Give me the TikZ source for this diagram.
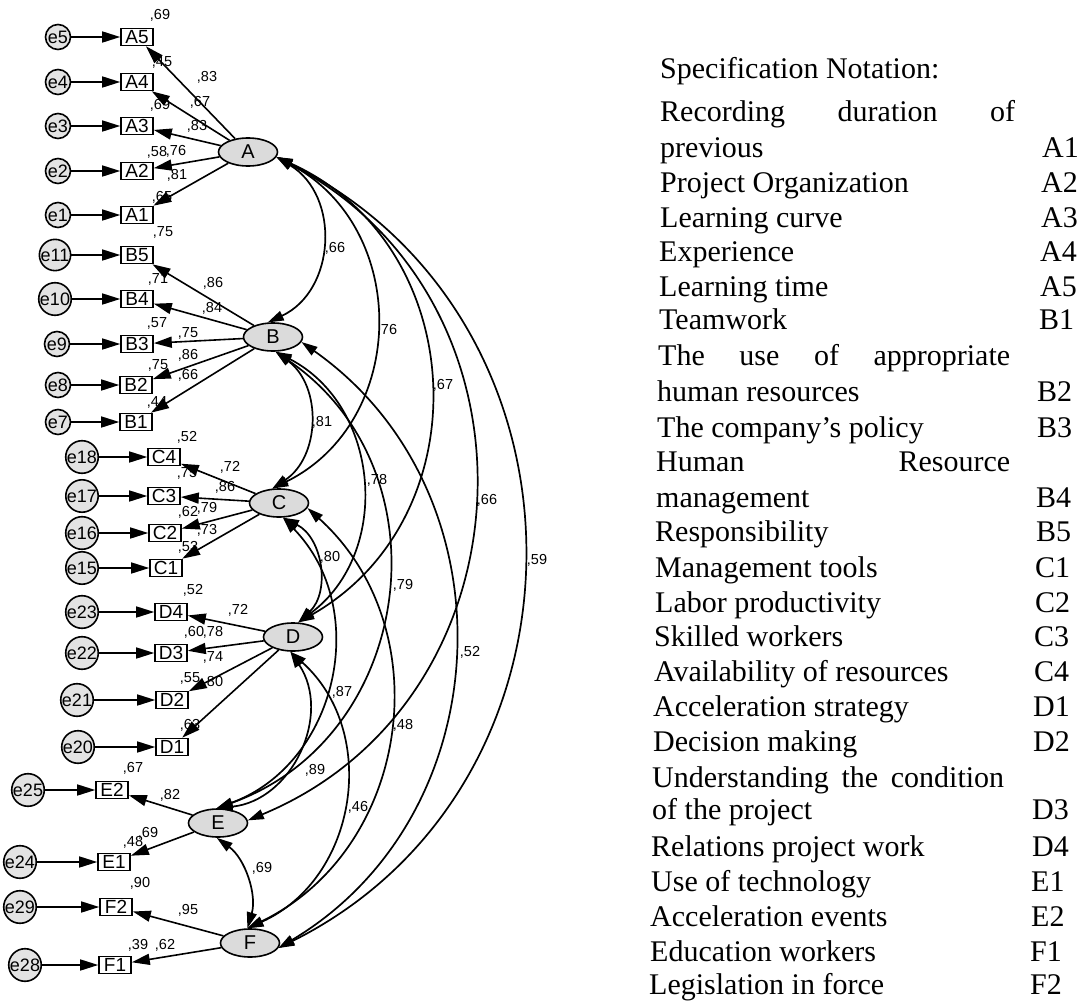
\documentclass[tikz,border=0pt]{standalone}
\usepackage{fontspec}
\setmainfont{Liberation Serif}
\newfontfamily\lsans{Liberation Sans}
\usetikzlibrary{shapes.geometric, arrows.meta}
\newcommand\myval{\lsans\fontsize{14.5}{16}\selectfont}
\newcommand\myobs{\lsans\fontsize{19}{21}\selectfont}
\newcommand\mylat{\lsans\fontsize{20}{22}\selectfont}
\newcommand\myerr{\lsans\fontsize{18}{20}\selectfont}
\newcommand\mytxt{\rmfamily\fontsize{30}{34}\selectfont}
\begin{document}
\begin{tikzpicture}[x=1pt,y=-1pt,
  obs/.style={draw, rectangle, minimum width=32pt, minimum height=17pt, inner sep=0pt, font=\myobs, line width=1.6pt},
  lat/.style={draw, ellipse, fill=gray!28, minimum width=59pt, minimum height=28pt, inner sep=0pt, font=\mylat, line width=1.6pt},
  err/.style={draw, circle, fill=gray!22, minimum size=25pt, inner sep=0pt, font=\myerr, line width=1.6pt},
  val/.style={font=\myval, inner sep=0pt},
  txt/.style={font=\mytxt, inner sep=0pt, anchor=base west},
  reg/.style={-{Triangle[length=18pt,width=11pt]}, line width=1.6pt},
  cov/.style={{Triangle[length=16pt,width=10pt]}-{Triangle[length=16pt,width=10pt]}, line width=1.7pt}]
\useasboundingbox (0,0) rectangle (1088,1001);
\fill[white] (0,0) rectangle (1088,1001);

% latent variables
\node[lat] (A) at (248,152) {A};
\node[lat] (B) at (273,337) {B};
\node[lat] (C) at (279,503) {C};
\node[lat] (D) at (293,637) {D};
\node[lat] (E) at (218,823) {E};
\node[lat] (F) at (250,943) {F};

% observed variables
\node[obs] (A5) at (137,37) {A5};
\node[obs] (A4) at (137,82) {A4};
\node[obs] (A3) at (137,126) {A3};
\node[obs] (A2) at (137,171) {A2};
\node[obs] (A1) at (137,215) {A1};
\node[obs] (B5) at (137,255) {B5};
\node[obs] (B4) at (137,299) {B4};
\node[obs] (B3) at (137,344) {B3};
\node[obs] (B2) at (136,385) {B2};
\node[obs] (B1) at (136,422) {B1};
\node[obs] (C4) at (164,457) {C4};
\node[obs] (C3) at (164,496) {C3};
\node[obs] (C2) at (165,533) {C2};
\node[obs] (C1) at (166,568) {C1};
\node[obs] (D4) at (171,612) {D4};
\node[obs] (D3) at (171,653) {D3};
\node[obs] (D2) at (172,700) {D2};
\node[obs] (D1) at (172,747) {D1};
\node[obs] (E2) at (112,790) {E2};
\node[obs] (E1) at (114,862) {E1};
\node[obs] (F2) at (116,907) {F2};
\node[obs] (F1) at (115,965) {F1};

% error terms
\node[err] (e5) at (58,37) {e5};
\node[err] (e4) at (58,82) {e4};
\node[err] (e3) at (58,126) {e3};
\node[err] (e2) at (58,171) {e2};
\node[err] (e1) at (58,215) {e1};
\node[err] (e11) at (55,255) {e11};
\node[err] (e10) at (55,299) {e10};
\node[err] (e9) at (57,344) {e9};
\node[err] (e8) at (58,385) {e8};
\node[err] (e7) at (58,422) {e7};
\node[err] (e18) at (82,457) {e18};
\node[err] (e17) at (82,496) {e17};
\node[err] (e16) at (82,533) {e16};
\node[err] (e15) at (82,568) {e15};
\node[err] (e23) at (82,612) {e23};
\node[err] (e22) at (82,653) {e22};
\node[err] (e21) at (77,700) {e21};
\node[err] (e20) at (78,747) {e20};
\node[err] (e25) at (28,790) {e25};
\node[err] (e24) at (20,862) {e24};
\node[err] (e29) at (20,907) {e29};
\node[err] (e28) at (25,965) {e28};

% error -> indicator
\foreach \e/\o in {e5/A5,e4/A4,e3/A3,e2/A2,e1/A1,e11/B5,e10/B4,e9/B3,e8/B2,e7/B1,
  e18/C4,e17/C3,e16/C2,e15/C1,e23/D4,e22/D3,e21/D2,e20/D1,e25/E2,e24/E1,e29/F2,e28/F1}
  \draw[reg] (\e) -- (\o);

% loadings
\foreach \l/\o in {A/A5,A/A4,A/A3,A/A2,A/A1,B/B5,B/B4,B/B3,B/B2,B/B1,
  C/C4,C/C3,C/C2,C/C1,D/D4,D/D3,D/D2,D/D1,E/E2,E/E1,F/F2,F/F1}
  \draw[reg] (\l) -- (\o);

% covariances
\draw[cov] (A.-10) to[bend left=62, looseness=1.16] (B.110);
\draw[cov] (A.-10) to[bend left=63, looseness=1.17] (C.115);
\draw[cov] (A.-10) to[bend left=63, looseness=1.17] (D.70);
\draw[cov] (A.-10) to[bend left=65, looseness=1.2] (E.5);
\draw[cov] (A.-10) to[bend left=63.6, looseness=1.18] (F.-10);
\draw[cov] (B.-80) to[bend left=55, looseness=1.08] (C.115);
\draw[cov] (B.-80) to[bend left=58, looseness=1.11] (D.70);
\draw[cov] (B.-80) to[bend left=63, looseness=1.17] (E.95);
\draw[cov] (B.-10) to[bend left=57, looseness=1.1] (F.-10);
\draw[cov] (C.-75) to[bend left=55, looseness=1.08] (D.70);
\draw[cov] (C.-75) to[bend left=57, looseness=1.1] (E.95);
\draw[cov] (C.-10) to[bend left=56, looseness=1.09] (F.100);
\draw[cov] (D.-100) to[bend left=59, looseness=1.12] (E.95);
\draw[cov] (D.-100) to[bend left=57, looseness=1.1] (F.100);
\draw[cov] (E.-95) to[bend left=35, looseness=0.94] (F.100);

% values on indicators / loadings
\node[val] (v1) at (160,15) {,69};
\node[val] (v2) at (162,62) {,45};
\node[val] (v3) at (207,77) {,83};
\node[val] (v4) at (200,102) {,67};
\node[val] (v5) at (160,105) {,69};
\node[val] (v6) at (197,126) {,83};
\node[val] (v7) at (157,152) {,58};
\node[val] (v8) at (176,151) {,76};
\node[val] (v9) at (177,175) {,81};
\node[val] (v10) at (162,197) {,65};
\node[val] (v11) at (163,232) {,75};
\node[val] (v12) at (213,283) {,86};
\node[val] (v13) at (158,279) {,71};
\node[val] (v14) at (212,308) {,84};
\node[val] (v15) at (157,323) {,57};
\node[val] (v16) at (188,333) {,75};
\node[val] (v17) at (188,355) {,86};
\node[val] (v18) at (158,365) {,75};
\node[val] (v19) at (188,375) {,66};
\node[val] (v20) at (157,402) {,44};
\node[val] (v21) at (187,437) {,52};
\node[val] (v22) at (230,467) {,72};
\node[val] (v23) at (187,473) {,75};
\node[val] (v24) at (225,487) {,86};
\node[val] (v25) at (188,512) {,62};
\node[val] (v26) at (207,508) {,79};
\node[val] (v27) at (207,530) {,73};
\node[val] (v28) at (188,547) {,53};
\node[val] (v29) at (193,590) {,52};
\node[val] (v30) at (238,610) {,72};
\node[val] (v31) at (194,632) {,60};
\node[val] (v32) at (213,632) {,78};
\node[val] (v33) at (213,657) {,74};
\node[val] (v34) at (190,678) {,55};
\node[val] (v35) at (213,682) {,80};
\node[val] (v36) at (190,725) {,63};
\node[val] (v37) at (133,768) {,67};
\node[val] (v38) at (170,795) {,82};
\node[val] (v39) at (133,842) {,48};
\node[val] (v40) at (148,833) {,69};
\node[val] (v41) at (140,883) {,90};
\node[val] (v42) at (188,910) {,95};
\node[val] (v43) at (138,945) {,39};
\node[val] (v44) at (165,945) {,62};

% covariance values
\node[val] (k1) at (335,248) {,66};
\node[val] (k2) at (387,330) {,76};
\node[val] (k3) at (443,385) {,67};
\node[val] (k4) at (487,500) {,66};
\node[val] (k5) at (537,560) {,59};
\node[val] (k6) at (322,422) {,81};
\node[val] (k7) at (377,480) {,78};
\node[val] (k8) at (403,585) {,79};
\node[val] (k9) at (470,652) {,52};
\node[val] (k10) at (330,557) {,80};
\node[val] (k11) at (342,692) {,87};
\node[val] (k12) at (403,725) {,48};
\node[val] (k13) at (315,770) {,89};
\node[val] (k14) at (358,807) {,46};
\node[val] (k15) at (262,868) {,69};

% specification notation
\node[txt] (t0) at (660,78) {Specification Notation:};
\node[txt] (t1) at (660,121) {\makebox[355pt][s]{Recording duration of}};
\node[txt] (t2) at (660,157) {previous};
\node[txt] (t3) at (660,192) {Project Organization};
\node[txt] (t4) at (660,227) {Learning curve};
\node[txt] (t5) at (659,261) {Experience};
\node[txt] (t6) at (659,296) {Learning time};
\node[txt] (t7) at (659,329) {Teamwork};
\node[txt] (t8) at (658,365) {\makebox[352pt][s]{The use of appropriate}};
\node[txt] (t9) at (657,401) {human resources};
\node[txt] (t10) at (657,437) {The company's policy};
\node[txt] (t11) at (656,471) {\makebox[354pt][s]{Human Resource}};
\node[txt] (t12) at (656,507) {management};
\node[txt] (t13) at (655,541) {Responsibility};
\node[txt] (t14) at (655,577) {Management tools};
\node[txt] (t15) at (655,612) {Labor productivity};
\node[txt] (t16) at (654,646) {Skilled workers};
\node[txt] (t17) at (654,681) {Availability of resources};
\node[txt] (t18) at (653,716) {Acceleration strategy};
\node[txt] (t19) at (653,751) {Decision making};
\node[txt] (t20) at (652,787) {\makebox[352pt][s]{Understanding the condition}};
\node[txt] (t21) at (652,819) {of the project};
\node[txt] (t22) at (651,856) {Relations project work};
\node[txt] (t23) at (651,891) {Use of technology};
\node[txt] (t24) at (650,926) {Acceleration events};
\node[txt] (t25) at (650,961) {Education workers};
\node[txt] (t26) at (649,994) {Legislation in force};

\node[txt] (c1) at (1042,157) {A1};
\node[txt] (c2) at (1041,192) {A2};
\node[txt] (c3) at (1041,227) {A3};
\node[txt] (c4) at (1040,261) {A4};
\node[txt] (c5) at (1040,296) {A5};
\node[txt] (c6) at (1039,329) {B1};
\node[txt] (c7) at (1037,401) {B2};
\node[txt] (c8) at (1037,437) {B3};
\node[txt] (c9) at (1036,507) {B4};
\node[txt] (c10) at (1036,541) {B5};
\node[txt] (c11) at (1035,577) {C1};
\node[txt] (c12) at (1035,612) {C2};
\node[txt] (c13) at (1034,646) {C3};
\node[txt] (c14) at (1034,681) {C4};
\node[txt] (c15) at (1033,716) {D1};
\node[txt] (c16) at (1033,751) {D2};
\node[txt] (c17) at (1032,819) {D3};
\node[txt] (c18) at (1032,856) {D4};
\node[txt] (c19) at (1031,891) {E1};
\node[txt] (c20) at (1031,926) {E2};
\node[txt] (c21) at (1030,961) {F1};
\node[txt] (c22) at (1030,994) {F2};
\end{tikzpicture}
\end{document}
